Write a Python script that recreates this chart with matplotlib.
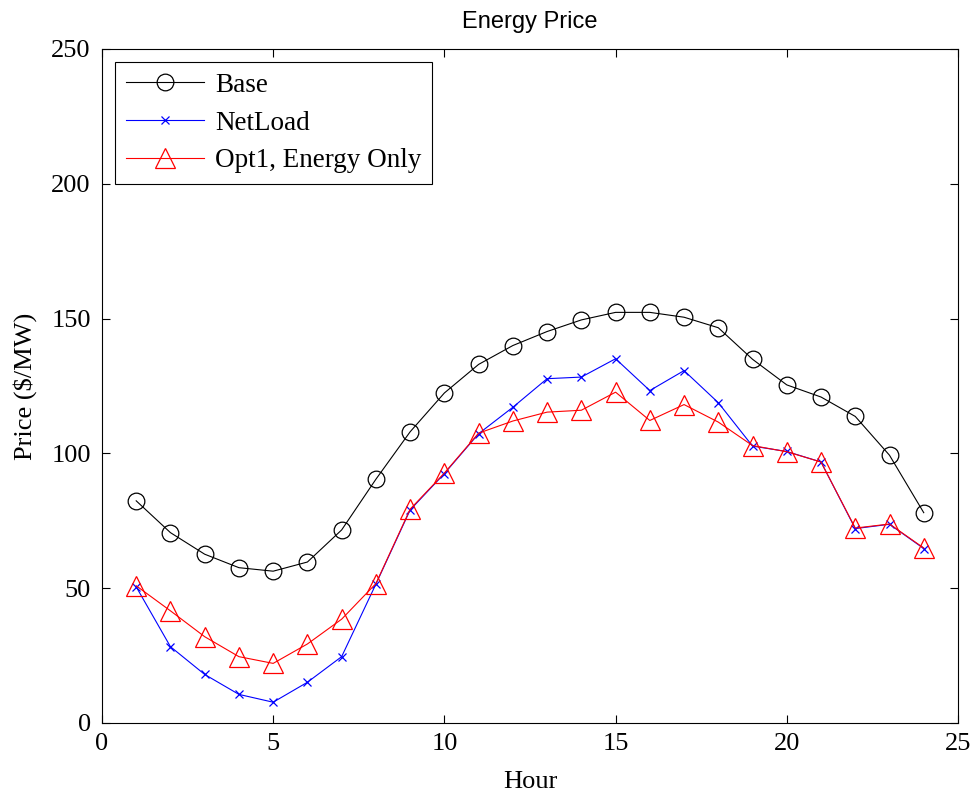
import matplotlib
matplotlib.use("Agg")
import matplotlib.pyplot as plt

# Hourly energy prices ($/MW)
hours = list(range(1, 25))
base = [82.4, 70.6, 62.6, 57.6, 56.3, 59.7, 71.6, 90.4, 108.0, 122.4, 133.0, 140.0,
        145.2, 149.5, 152.3, 152.3, 150.5, 146.6, 134.9, 125.4, 120.9, 113.7, 99.3, 78.0]
netload = [50.5, 28.3, 18.0, 10.6, 7.7, 15.1, 24.6, 51.5, 79.0, 92.5, 107.3, 117.1,
           127.7, 128.3, 135.1, 123.3, 130.7, 118.8, 102.7, 100.7, 96.8, 72.1, 73.7, 64.7]
opt1 = [50.9, 41.6, 32.0, 24.6, 22.1, 29.3, 38.5, 51.7, 79.3, 92.7, 107.5, 112.0,
        115.3, 116.0, 122.7, 112.2, 118.1, 111.6, 102.9, 100.6, 96.8, 72.3, 73.8, 64.9]

serif = "Liberation Serif"

fig = plt.figure(figsize=(9.71, 7.95), dpi=100)
ax = fig.add_axes([0.105, 0.0906, 0.8816, 0.8478])

ax.plot(hours, base, color="black", lw=0.8, marker="o", ms=12,
        mfc="none", mec="black", mew=0.9, label="Base")
ax.plot(hours, netload, color="blue", lw=0.8, marker="x", ms=6,
        mec="blue", mew=0.9, label="NetLoad")
ax.plot(hours, opt1, color="red", lw=0.8, marker="^", ms=14,
        mfc="none", mec="red", mew=0.9, label="Opt1, Energy Only")

ax.set_xlim(0, 25)
ax.set_ylim(0, 250)
ax.set_xticks(range(0, 26, 5))
ax.set_yticks(range(0, 251, 50))
ax.tick_params(direction="in", top=True, right=True, length=6, width=0.8,
               labelsize=19)
ax.tick_params(axis="x", pad=7)
ax.tick_params(axis="y", pad=8)
for lab in ax.get_xticklabels() + ax.get_yticklabels():
    lab.set_fontfamily(serif)
for sp in ax.spines.values():
    sp.set_linewidth(0.8)

ax.set_xlabel("Hour", fontsize=19, fontfamily=serif, labelpad=12)
ax.set_ylabel("Price ($/MW)", fontsize=19, fontfamily=serif, labelpad=10)
ax.set_title("Energy Price", fontsize=17, fontfamily="Liberation Sans", pad=15)

leg = ax.legend(loc="upper left", prop={"family": serif, "size": 19.5},
                fancybox=False, edgecolor="black", framealpha=1,
                handlelength=2.9, borderaxespad=0.48, labelspacing=0.47,
                handletextpad=0.4, borderpad=0.4)
leg.get_frame().set_linewidth(0.8)

fig.savefig("out.png", dpi=100)
